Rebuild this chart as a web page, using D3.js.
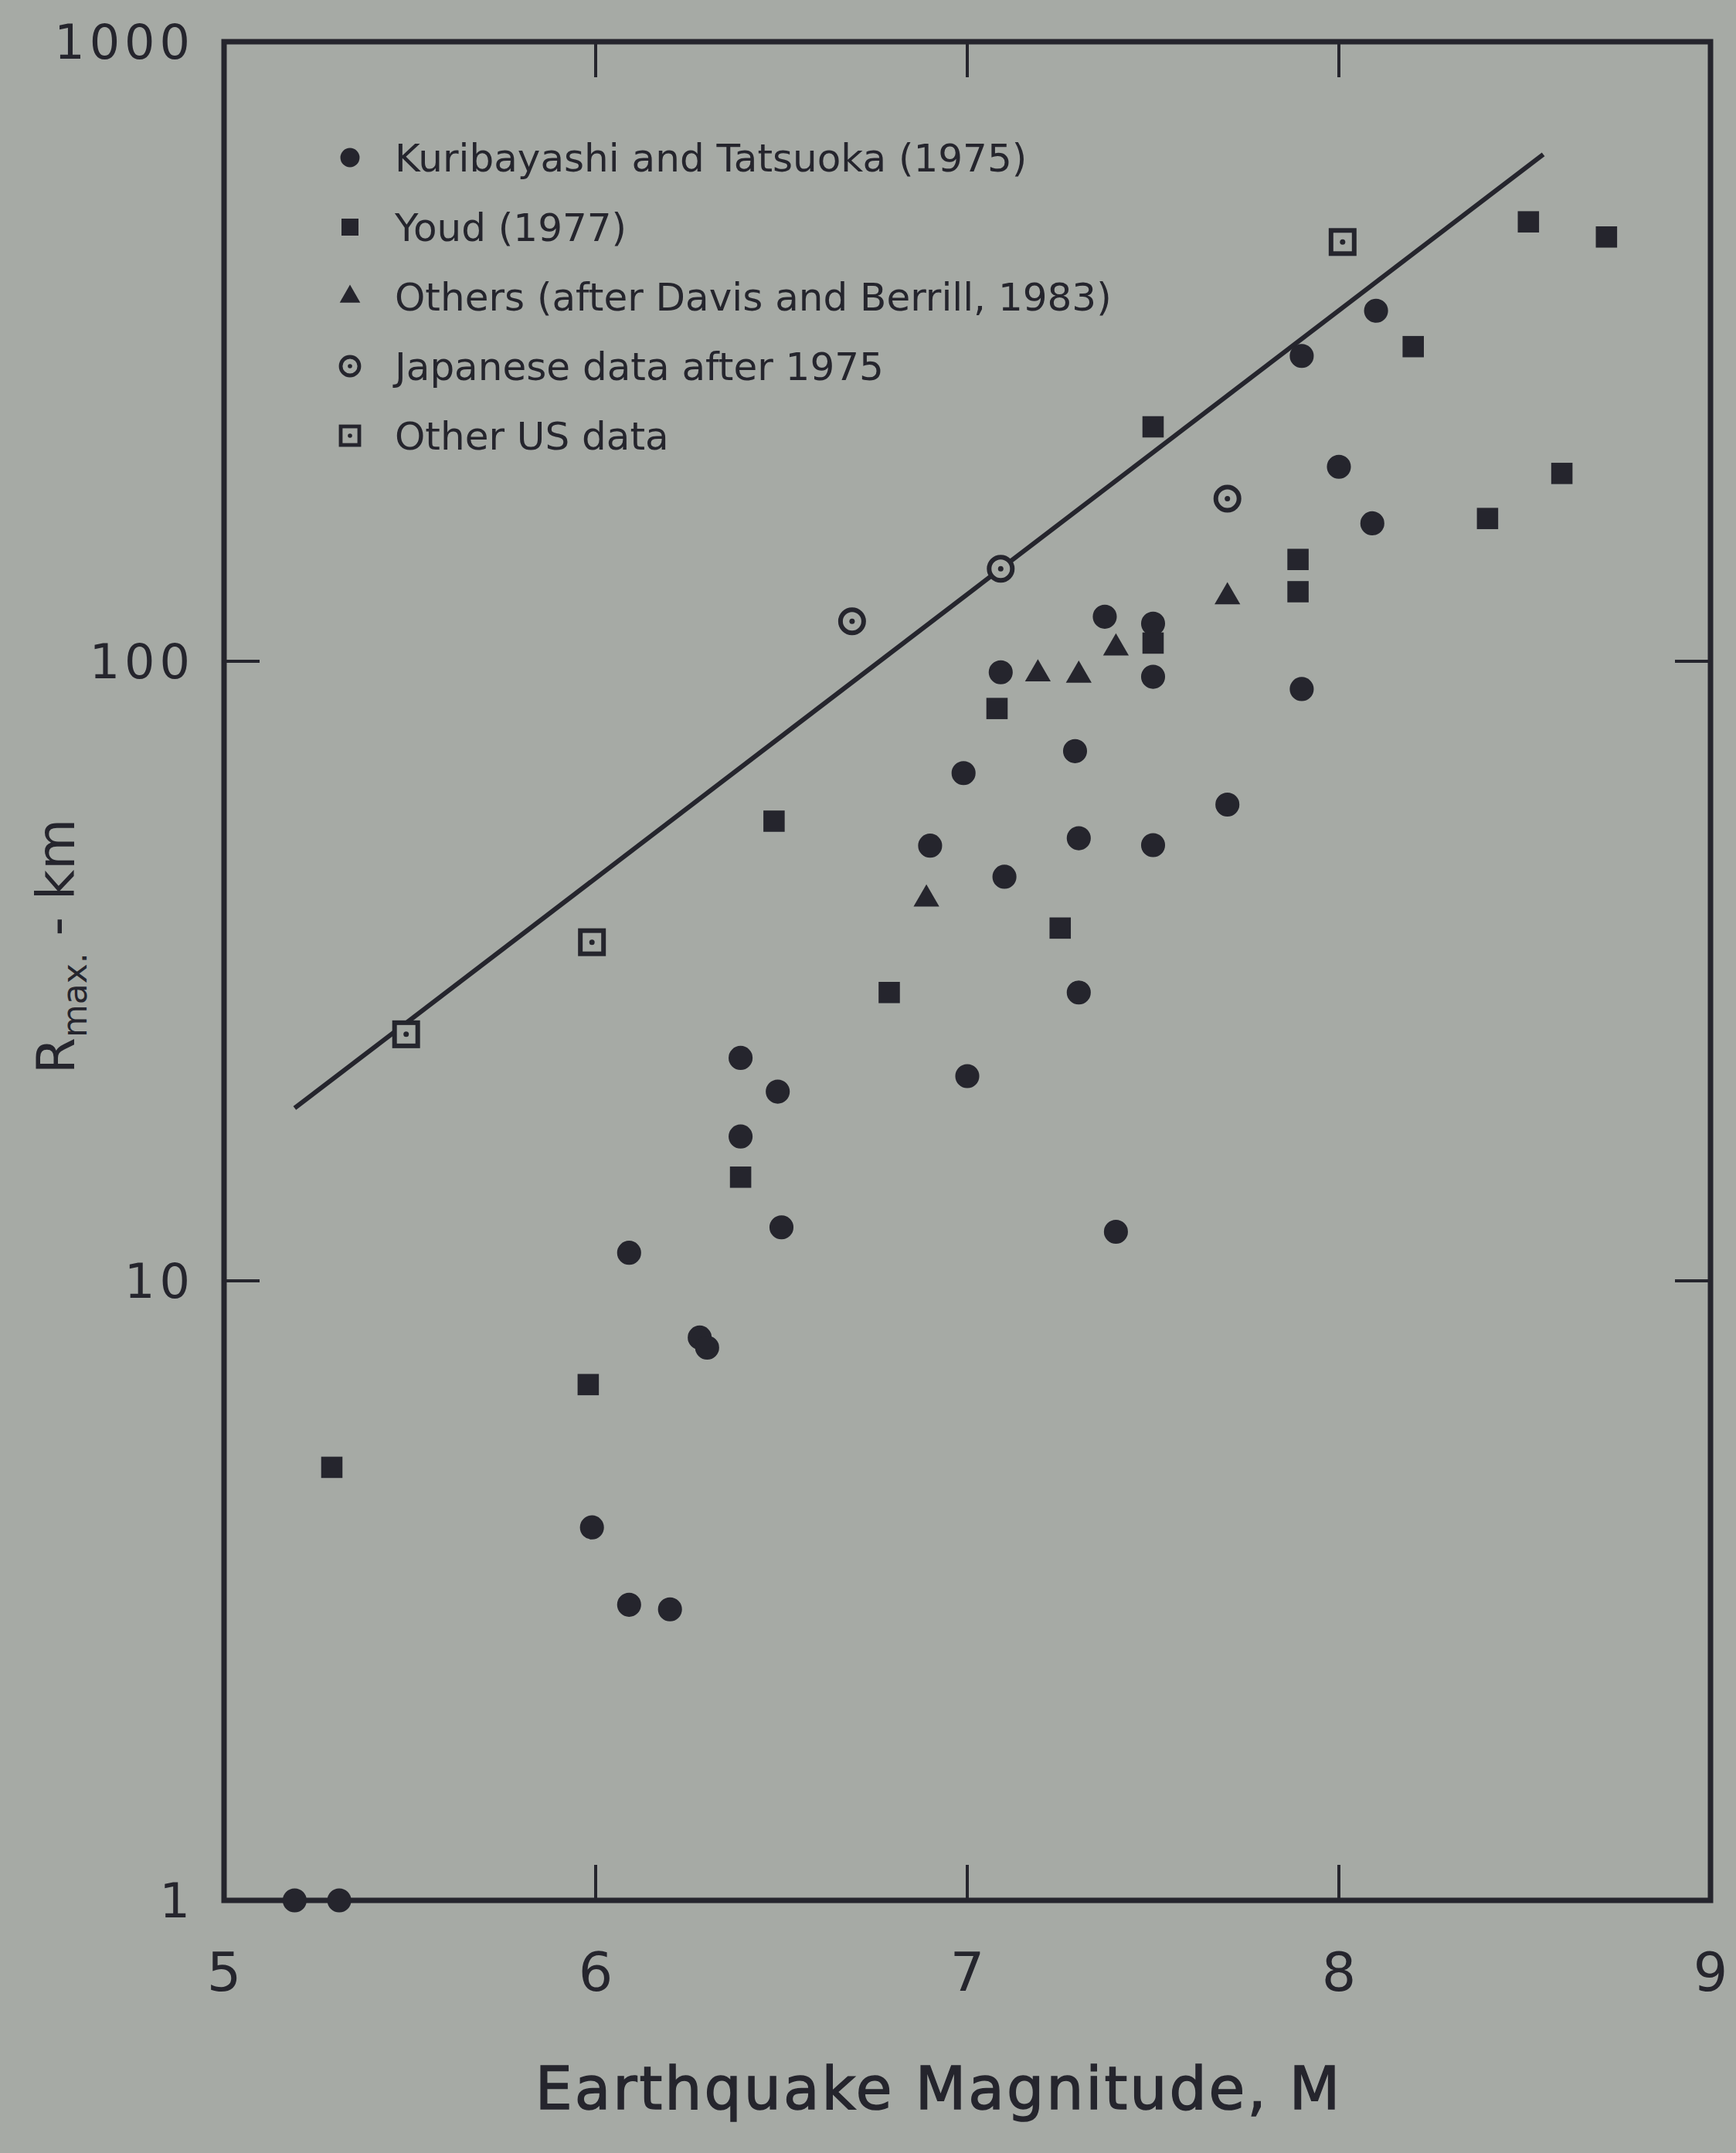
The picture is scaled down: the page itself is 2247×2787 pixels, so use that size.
<!DOCTYPE html>
<html>
<head>
<meta charset="utf-8">
<script src="https://cdn.jsdelivr.net/npm/d3@7"></script>
<style>
  html, body { margin: 0; padding: 0; background: #a6aaa5; }
  svg { display: block; }
</style>
</head>
<body>
<div id="chart"></div>
<script>
// Données : [magnitude M, Rmax en km]
const kuribayashi = [
  [5.19, 1], [5.31, 1], [5.99, 4.0], [6.09, 3.0], [6.2, 2.95],
  [6.09, 11.1], [6.28, 8.1], [6.3, 7.8], [6.39, 22.9], [6.49, 20.2],
  [6.39, 17.1], [6.5, 12.2], [6.99, 66], [6.9, 50.4], [7.1, 44.9],
  [7.0, 21.4], [7.09, 96], [7.29, 71.6], [7.3, 51.8], [7.3, 29.2],
  [7.4, 12.0], [7.37, 118], [7.5, 115], [7.5, 94.4], [7.5, 50.5],
  [7.7, 58.7], [7.9, 90.2], [7.9, 311], [8.0, 206], [8.09, 167], [8.1, 368]
];
const youd = [
  [5.29, 5.0], [5.98, 6.8], [6.39, 14.7], [6.48, 55.2], [6.79, 29.2],
  [7.08, 83.9], [7.25, 37.1], [7.5, 107], [7.5, 239], [7.89, 146],
  [7.89, 129.5], [8.2, 322], [8.4, 170], [8.51, 512], [8.6, 201], [8.72, 484]
];
const others = [[6.89, 41.3], [7.19, 95.4], [7.3, 94.9], [7.4, 105], [7.7, 127]];
const japanese = [[6.69, 116], [7.09, 141], [7.7, 183]];
const otherUS = [[5.49, 25], [5.99, 35.2], [8.01, 475]];
// droite enveloppe (extrémités)
const boundLine = [[5.19, 19], [8.55, 658]];

const xTicks = [5, 6, 7, 8, 9];
const yTicks = [1, 10, 100, 1000];

const legendItems = [
  { key: "kuri", label: "Kuribayashi and Tatsuoka (1975)" },
  { key: "youd", label: "Youd (1977)" },
  { key: "others", label: "Others (after Davis and Berrill, 1983)" },
  { key: "jap", label: "Japanese data after 1975" },
  { key: "us", label: "Other US data" },
];

//---------------------------------------------------------------------------------------

const W = 2247, H = 2787;
const ink = "#25252d";
const bg = "#a6aaa5";
const font = "'DejaVu Sans', sans-serif";

const plot = { left: 290, right: 2214, top: 54, bottom: 2460 };

const svg = d3.select("#chart")
  .append("svg")
  .attr("width", W)
  .attr("height", H)
  .attr("viewBox", [0, 0, W, H]);

svg.append("rect")
  .attr("width", W).attr("height", H)
  .attr("fill", bg);

const x = d3.scaleLinear().domain([5, 9]).range([plot.left, plot.right]);
const y = d3.scaleLog().domain([1, 1000]).range([plot.bottom, plot.top]);

//---------------------------------------------------------------------------------------

// Cadre et graduations (vers l'intérieur)

const g = svg.append("g");

g.append("rect")
  .attr("x", plot.left).attr("y", plot.top)
  .attr("width", plot.right - plot.left)
  .attr("height", plot.bottom - plot.top)
  .attr("fill", "none")
  .attr("stroke", ink)
  .attr("stroke-width", 7);

const tickLen = 46;
const innerX = xTicks.slice(1, -1);
const innerY = yTicks.slice(1, -1);

innerX.forEach(t => {
  g.append("line")
    .attr("x1", x(t)).attr("x2", x(t))
    .attr("y1", plot.bottom).attr("y2", plot.bottom - tickLen)
    .attr("stroke", ink).attr("stroke-width", 4);
  g.append("line")
    .attr("x1", x(t)).attr("x2", x(t))
    .attr("y1", plot.top).attr("y2", plot.top + tickLen)
    .attr("stroke", ink).attr("stroke-width", 4);
});

innerY.forEach(t => {
  g.append("line")
    .attr("x1", plot.left).attr("x2", plot.left + tickLen)
    .attr("y1", y(t)).attr("y2", y(t))
    .attr("stroke", ink).attr("stroke-width", 4);
  g.append("line")
    .attr("x1", plot.right).attr("x2", plot.right - tickLen)
    .attr("y1", y(t)).attr("y2", y(t))
    .attr("stroke", ink).attr("stroke-width", 4);
});

// libellés des graduations
g.selectAll(".ylab")
  .data(yTicks)
  .join("text")
  .attr("x", plot.left - 38)
  .attr("y", d => y(d))
  .attr("dy", "0.36em")
  .attr("text-anchor", "end")
  .attr("font-family", font)
  .attr("font-size", 62)
  .attr("letter-spacing", 6)
  .attr("fill", ink)
  .text(d => d);

g.selectAll(".xlab")
  .data(xTicks)
  .join("text")
  .attr("x", d => x(d))
  .attr("y", plot.bottom + 92)
  .attr("dy", "0.36em")
  .attr("text-anchor", "middle")
  .attr("font-family", font)
  .attr("font-size", 70)
  .attr("fill", ink)
  .text(d => d);

// titres des axes
svg.append("text")
  .attr("x", 1215)
  .attr("y", 2730)
  .attr("text-anchor", "middle")
  .attr("font-family", font)
  .attr("font-size", 76)
  .attr("letter-spacing", 3)
  .attr("fill", ink)
  .attr("stroke", ink)
  .attr("stroke-width", 1.5)
  .text("Earthquake Magnitude, M");

const yTitle = svg.append("text")
  .attr("transform", "translate(96, 1225) rotate(-90)")
  .attr("text-anchor", "middle")
  .attr("font-family", font)
  .attr("font-size", 68)
  .attr("fill", ink);
yTitle.append("tspan").text("R");
yTitle.append("tspan").attr("font-size", 44).attr("dy", 16).text("max.");
yTitle.append("tspan").attr("dy", -16).text(" - km");

//---------------------------------------------------------------------------------------

// Droite enveloppe

const line = d3.line().x(d => x(d[0])).y(d => y(d[1]));

g.append("path")
  .attr("d", line(boundLine))
  .attr("fill", "none")
  .attr("stroke", ink)
  .attr("stroke-width", 6);

//---------------------------------------------------------------------------------------

// Symboles

const drawers = {
  kuri: (sel) => sel.append("path")
    .attr("d", d3.symbol(d3.symbolCircle, 760)())
    .attr("fill", ink),
  youd: (sel) => sel.append("path")
    .attr("d", d3.symbol(d3.symbolSquare, 760)())
    .attr("fill", ink),
  others: (sel) => sel.append("path")
    .attr("d", d3.symbol(d3.symbolTriangle, 480)())
    .attr("fill", ink),
  jap: (sel) => {
    sel.append("circle").attr("r", 15).attr("fill", bg)
      .attr("stroke", ink).attr("stroke-width", 6);
    sel.append("circle").attr("r", 3.5).attr("fill", ink);
  },
  us: (sel) => {
    sel.append("rect").attr("x", -15).attr("y", -15)
      .attr("width", 30).attr("height", 30).attr("fill", bg)
      .attr("stroke", ink).attr("stroke-width", 6);
    sel.append("circle").attr("r", 3.5).attr("fill", ink);
  },
};

const series = [
  { key: "kuri", data: kuribayashi },
  { key: "youd", data: youd },
  { key: "others", data: others },
  { key: "jap", data: japanese },
  { key: "us", data: otherUS },
];

series.forEach(s => {
  const pts = g.append("g")
    .selectAll("g")
    .data(s.data)
    .join("g")
    .attr("transform", d => `translate(${x(d[0])}, ${y(d[1])})`);
  drawers[s.key](pts);
});

//---------------------------------------------------------------------------------------

// Légende

const legend = svg.append("g").attr("transform", "translate(453, 204)");

const rows = legend.selectAll("g")
  .data(legendItems)
  .join("g")
  .attr("transform", (d, i) => `translate(0, ${i * 90})`);

rows.each(function (d) {
  const r = d3.select(this).append("g").attr("transform", "scale(0.8)");
  drawers[d.key](r);
});

rows.append("text")
  .attr("x", 58)
  .attr("dy", "0.36em")
  .attr("font-family", font)
  .attr("font-size", 50)
  .attr("fill", ink)
  .text(d => d.label);
</script>
</body>
</html>
